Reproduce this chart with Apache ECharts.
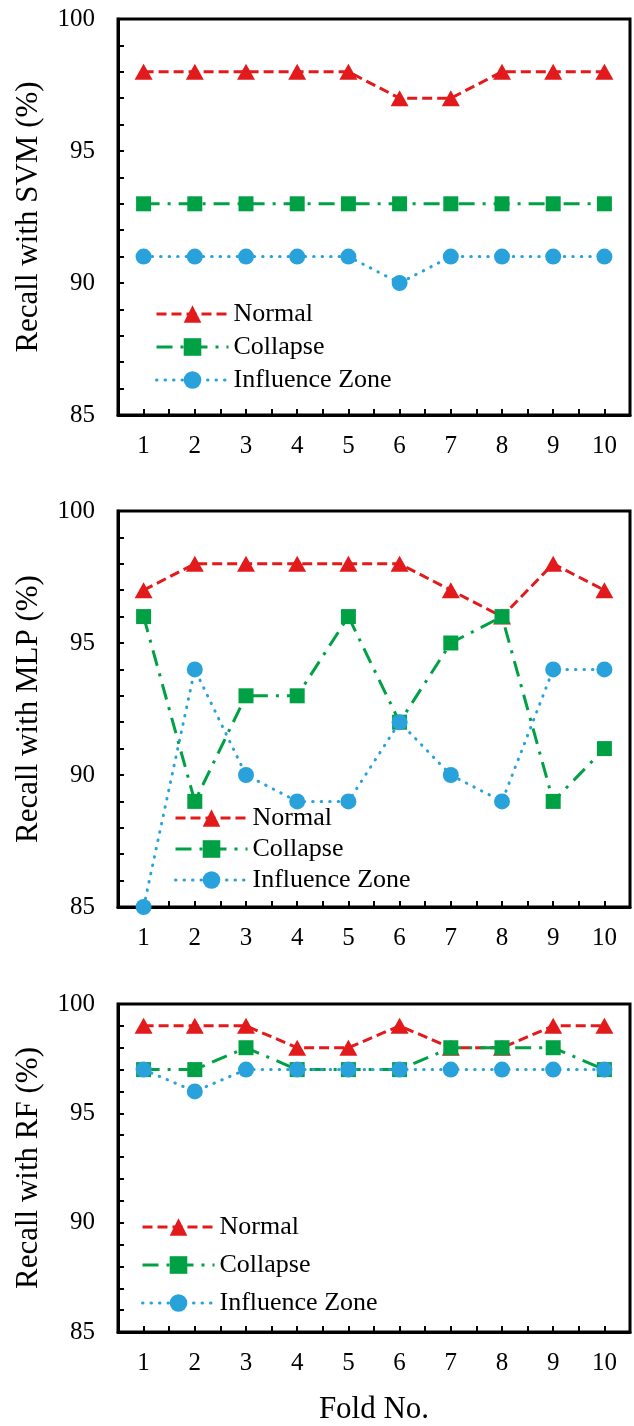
<!DOCTYPE html>
<html>
<head>
<meta charset="utf-8">
<script src="https://cdn.jsdelivr.net/npm/echarts@6/dist/echarts.min.js"></script>
<style>
  html, body { margin: 0; padding: 0; background: #fff; }
  #chart { width: 634px; height: 1426px; }
</style>
</head>
<body>
<div id="chart"></div>
<script>
"use strict";

/*****Data start*****/
var folds = [1, 2, 3, 4, 5, 6, 7, 8, 9, 10];
var seriesNames = ['Normal', 'Collapse', 'Influence Zone'];
var panelTitles = ['Recall with SVM (%)', 'Recall with MLP (%)', 'Recall with RF (%)'];

var svmNormal    = [98, 98, 98, 98, 98, 97, 97, 98, 98, 98];
var svmCollapse  = [93, 93, 93, 93, 93, 93, 93, 93, 93, 93];
var svmInfluence = [91, 91, 91, 91, 91, 90, 91, 91, 91, 91];

var mlpNormal    = [97, 98, 98, 98, 98, 98, 97, 96, 98, 97];
var mlpCollapse  = [96, 89, 93, 93, 96, 92, 95, 96, 89, 91];
var mlpInfluence = [85, 94, 90, 89, 89, 92, 90, 89, 94, 94];

var rfNormal     = [99, 99, 99, 98, 98, 99, 98, 98, 99, 99];
var rfCollapse   = [97, 97, 98, 97, 97, 97, 98, 98, 98, 97];
var rfInfluence  = [97, 96, 97, 97, 97, 97, 97, 97, 97, 97];
/*****Data end*****/

var panels = [
	[svmNormal, svmCollapse, svmInfluence],
	[mlpNormal, mlpCollapse, mlpInfluence],
	[rfNormal, rfCollapse, rfInfluence]
];

var fontFamily = "'Liberation Serif', 'Times New Roman', serif";
var red = '#e31a1c', green = '#00a045', blue = '#29a2dc';

var styles = [
	{ color: red,   symbol: 'triangle', size: [18, 16], dash: [10, 5] },
	{ color: green, symbol: 'rect',     size: 15,       dash: [16, 8, 3, 8] },
	{ color: blue,  symbol: 'circle',   size: 16,       dash: [0.5, 8] }
];

var grids = [
	{ left: 118, top: 19,   width: 512, height: 396 },
	{ left: 118, top: 511,  width: 512, height: 396 },
	{ left: 118, top: 1004, width: 512, height: 333 }
];

var legendPos = [
	{ left: 155, top: 301, itemGap: 7 },
	{ left: 174, top: 805, itemGap: 5 },
	{ left: 141, top: 1214, itemGap: 12 }
];

var pairs = function(vals) {
	return folds.map(function(f, i) { return [f, vals[i]]; });
};

var option = {
	animation: false,
	backgroundColor: '#fff',
	grid: [],
	xAxis: [],
	yAxis: [],
	legend: [],
	series: []
};

for (var p = 0; p < 3; p++) {
	option.grid.push({
		left: grids[p].left, top: grids[p].top,
		width: grids[p].width, height: grids[p].height,
		show: true, borderColor: '#000', borderWidth: 3,
		backgroundColor: 'transparent'
	});
	option.xAxis.push({
		type: 'value',
		gridIndex: p,
		min: 0.5, max: 10.5, interval: 0.5,
		name: p === 2 ? 'Fold No.' : '',
		nameLocation: 'middle',
		nameGap: 62,
		nameTextStyle: { color: '#000', fontFamily: fontFamily, fontSize: 31 },
		axisLine: { show: true, lineStyle: { color: '#000', width: 3 } },
		axisTick: { show: true, inside: true, length: 6, lineStyle: { color: '#000', width: 2 } },
		splitLine: { show: false },
		axisLabel: {
			color: '#000', fontFamily: fontFamily, fontSize: 25, margin: 19,
			formatter: function(v) { return Number.isInteger(v) ? String(v) : ''; }
		}
	});
	option.yAxis.push({
		type: 'value',
		gridIndex: p,
		min: 85, max: 100, interval: 5,
		name: panelTitles[p],
		nameLocation: 'middle',
		nameGap: 74,
		nameTextStyle: { color: '#000', fontFamily: fontFamily, fontSize: 31 },
		axisLine: { show: true, lineStyle: { color: '#000', width: 3 } },
		axisTick: { show: true, inside: true, length: 6, lineStyle: { color: '#000', width: 2 } },
		minorTick: { show: true, splitNumber: 5, length: 6, lineStyle: { color: '#000', width: 2 } },
		splitLine: { show: false },
		axisLabel: { color: '#000', fontFamily: fontFamily, fontSize: 25, margin: 23 }
	});
	option.legend.push({
		orient: 'vertical',
		left: legendPos[p].left,
		top: legendPos[p].top,
		padding: 0,
		itemGap: legendPos[p].itemGap,
		itemWidth: 72,
		itemHeight: 22,
		selectedMode: false,
		data: seriesNames,
		lineStyle: { width: 3 },
		textStyle: { color: '#000', fontFamily: fontFamily, fontSize: 26 }
	});
	for (var s = 0; s < 3; s++) {
		option.series.push({
			name: seriesNames[s],
			type: 'line',
			xAxisIndex: p,
			yAxisIndex: p,
			data: pairs(panels[p][s]),
			symbol: styles[s].symbol,
			symbolSize: styles[s].size,
			showAllSymbol: true,
			color: styles[s].color,
			itemStyle: { color: styles[s].color },
			lineStyle: {
				color: styles[s].color,
				width: 3,
				type: styles[s].dash,
				cap: s === 2 ? 'round' : 'butt'
			},
			z: 2 + s
		});
	}
}

var chart = echarts.init(document.getElementById('chart'), null, { renderer: 'canvas' });
chart.setOption(option);
</script>
</body>
</html>
